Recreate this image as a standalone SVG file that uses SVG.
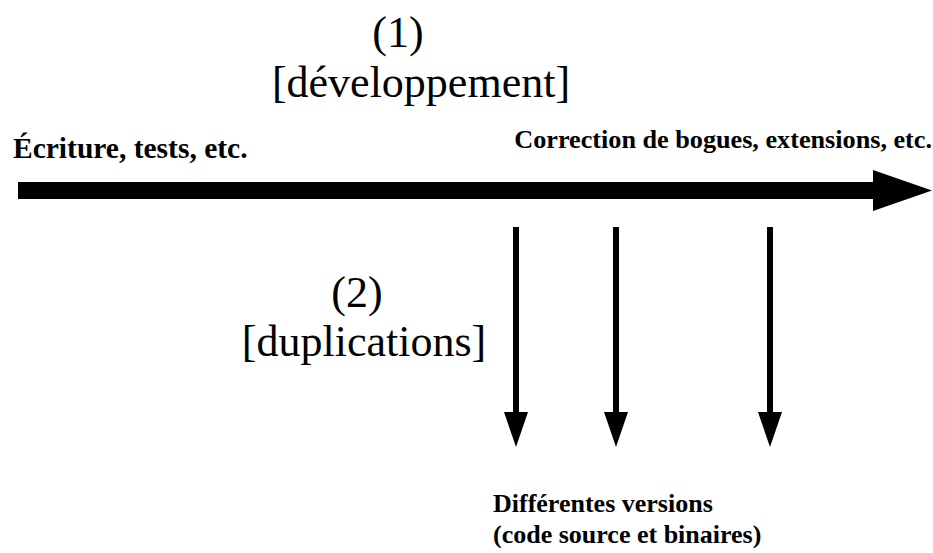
<svg xmlns="http://www.w3.org/2000/svg" width="933" height="553" viewBox="0 0 933 553">
<style>
text{font-family:'Liberation Serif','Times New Roman',serif;fill:#000}
.big{font-size:44px}
.lbl{font-weight:bold}
.arr{fill:#000;stroke:none}
</style>
<rect width="933" height="553" fill="#fff"/>
<g id="connectors">
<g id="main-arrow">
<rect class="arr" x="18" y="182" width="856" height="17"/>
<polygon class="arr" points="873,170 932,190.5 873,211"/>
</g>
<g id="dup1">
<rect class="arr" x="513" y="227" width="6" height="186"/>
<polygon class="arr" points="504,412 528,412 516,447"/>
</g>
<g id="dup2">
<rect class="arr" x="613" y="227" width="6" height="186"/>
<polygon class="arr" points="604,412 628,412 616,447"/>
</g>
<g id="dup3">
<rect class="arr" x="767" y="227" width="6" height="186"/>
<polygon class="arr" points="758,412 782,412 770,447"/>
</g>
</g>
<g id="label-dev">
<text class="big" x="398" y="47" text-anchor="middle">(1)</text>
<text class="big" x="421" y="97" text-anchor="middle">[développement]</text>
</g>
<g id="label-start">
<text class="lbl" x="13" y="158" font-size="29.5">Écriture, tests, etc.</text>
</g>
<g id="label-end">
<text class="lbl" x="932" y="148" font-size="26.2" text-anchor="end">Correction de bogues, extensions, etc.</text>
</g>
<g id="label-dup">
<text class="big" x="357" y="307" text-anchor="middle">(2)</text>
<text class="big" x="364" y="356" text-anchor="middle">[duplications]</text>
</g>
<g id="label-versions">
<text class="lbl" x="493" y="512" font-size="26">Différentes versions</text>
<text class="lbl" x="493" y="543" font-size="26">(code source et binaires)</text>
</g>
</svg>
